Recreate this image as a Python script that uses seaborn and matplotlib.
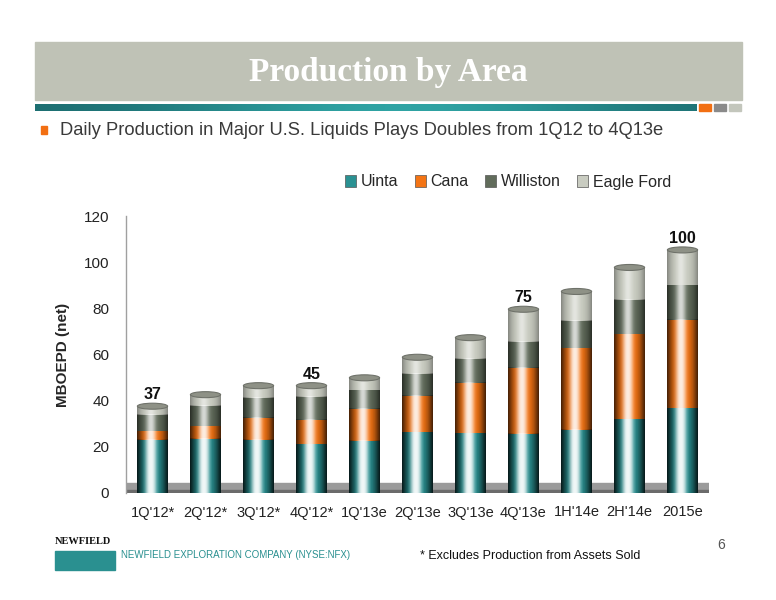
import numpy as np
import pandas as pd
import matplotlib
matplotlib.use("Agg")
import matplotlib.pyplot as plt
import seaborn as sns
from matplotlib.patches import Rectangle, Ellipse, Patch

# values (MBOEPD, net)
quarters = ["1Q'12*", "2Q'12*", "3Q'12*", "4Q'12*", "1Q'13e", "2Q'13e",
            "3Q'13e", "4Q'13e", "1H'14e", "2H'14e", "2015e"]
uinta = [23.0, 23.6, 23.1, 21.2, 22.7, 26.4, 25.9, 25.6, 27.3, 31.9, 36.7]
cana = [3.7, 5.3, 9.4, 10.6, 13.7, 15.8, 21.9, 28.7, 35.4, 36.9, 38.3]
williston = [7.3, 9.0, 8.7, 9.8, 8.1, 9.5, 10.3, 11.3, 12.0, 14.9, 15.0]
eagle_ford = [3.6, 4.7, 5.3, 4.9, 5.4, 7.1, 9.2, 14.0, 12.6, 14.0, 15.3]

# totals called out on the slide
label_quarters = ["1Q'12*", "4Q'12*", "4Q'13e", "2015e"]
label_values = [37, 45, 75, 100]

areas = ["Uinta", "Cana", "Williston", "Eagle Ford"]
colors = {"Uinta": "#2a9192", "Cana": "#f47414",
          "Williston": "#616c5b", "Eagle Ford": "#c9ccc1"}

df = pd.DataFrame({"quarter": quarters, "Uinta": uinta, "Cana": cana,
                   "Williston": williston, "Eagle Ford": eagle_ford})
# cumulative tops so the stacks can be drawn back-to-front
cum = df[areas].cumsum(axis=1)
for a in areas:
    df[a + "_top"] = cum[a]

sns.set_style("white")
plt.rcParams["font.family"] = ["Liberation Sans", "DejaVu Sans"]

fig = plt.figure(figsize=(7.76, 6), dpi=100)
fig.patch.set_facecolor("white")

# --- slide header ---
fig.patches.append(Rectangle((35 / 776, 1 - 100 / 600), 707 / 776, 58 / 600,
                             transform=fig.transFigure, color="#bfc2b6", zorder=0))
fig.text(388 / 776, 1 - 73 / 600, "Production by Area", color="white",
         fontsize=24, fontweight="bold", family=["Liberation Serif", "DejaVu Serif"],
         ha="center", va="center")
# teal stripe with a slight gradient
stripe_ax = fig.add_axes([35 / 776, 1 - 111 / 600, 662 / 776, 7 / 600])
grad = np.linspace(0, 1, 256)
grad = np.exp(-((grad - 0.55) / 0.35) ** 2)
stripe_ax.imshow(grad[None, :], aspect="auto",
                 cmap=matplotlib.colors.LinearSegmentedColormap.from_list(
                     "t", ["#1d6f72", "#2fa3a3"]))
stripe_ax.axis("off")
for x0, c in [(699, "#f26f12"), (714, "#8a8a8a"), (729, "#c3c6bc")]:
    fig.patches.append(Rectangle((x0 / 776, 1 - 111 / 600), 12 / 776, 7 / 600,
                                 transform=fig.transFigure, color=c))

fig.patches.append(Rectangle((41 / 776, 1 - 134 / 600), 6 / 776, 8 / 600,
                             transform=fig.transFigure, color="#f26f12"))
fig.text(60 / 776, 1 - 131 / 600,
         "Daily Production in Major U.S. Liquids Plays Doubles from 1Q12 to 4Q13e",
         fontsize=13.2, color="#3a3a3a", va="center", ha="left")

# --- chart ---
ax = fig.add_axes([126 / 776, 1 - 493 / 600, 583 / 776, 277 / 600])

# floor slab behind the bars
ax.axhspan(0, 4.2, color="#9b9b9b", zorder=0.5)
ax.axhspan(0, 1.4, color="#6b6b6b", zorder=0.6)

bar_w = 0.57
for a in reversed(areas):
    sns.barplot(data=df, x="quarter", y=a + "_top", color=colors[a],
                saturation=1, width=bar_w, ax=ax, zorder=2, linewidth=0)

# cylinder shading on each bar segment
t = np.linspace(0, 1, 128)
shade = np.zeros((1, 128, 4))
shade[..., 3] = 0.35 * np.abs(2 * t - 1) ** 3
light = np.ones((1, 128, 4))
light[..., 3] = 0.5 * np.exp(-((t - 0.45) / 0.14) ** 2)
for cont in ax.containers:
    for p in cont.patches:
        x0, y0 = p.get_x(), p.get_y()
        w, h = p.get_width(), p.get_height()
        ext = (x0, x0 + w, y0, y0 + h)
        ax.imshow(shade, extent=ext, aspect="auto", zorder=3, interpolation="bilinear")
        ax.imshow(light, extent=ext, aspect="auto", zorder=3, interpolation="bilinear")

# caps on top of each stack
totals = df["Eagle Ford_top"].to_numpy()
for i, tot in enumerate(totals):
    ax.add_patch(Ellipse((i, tot), bar_w, 2.6, facecolor="#8e9186",
                         edgecolor="#6f726a", linewidth=0.8, zorder=4))

for q, v in zip(label_quarters, label_values):
    i = quarters.index(q)
    ax.text(i, totals[i] + 1.8, str(v), ha="center", va="bottom",
            fontsize=11.5, fontweight="bold", color="#111111", zorder=5)

ax.set_xlim(-0.5, len(quarters) - 0.5)
ax.set_ylim(0, 120)
ax.set_yticks(range(0, 121, 20))
ax.set_xlabel("")
ax.set_ylabel("MBOEPD (net)", fontsize=11, fontweight="bold", labelpad=10)
ax.tick_params(axis="y", length=0, pad=12, labelsize=11, labelcolor="#222222")
ax.tick_params(axis="x", length=0, pad=9, labelsize=10.5, labelcolor="#222222")
for s in ["top", "right", "bottom"]:
    ax.spines[s].set_visible(False)
ax.spines["left"].set_color("#a0a0a0")
ax.spines["left"].set_linewidth(1)

handles = [Patch(facecolor=colors[a], edgecolor="#555555", linewidth=0.5, label=a)
           for a in areas]
fig.legend(handles=handles, loc="center", bbox_to_anchor=(508 / 776, 1 - 182 / 600),
           ncol=4, frameon=False, fontsize=11.5, handlelength=0.7, handleheight=0.7,
           handletextpad=0.3, columnspacing=1.0)

# --- footer ---
fig.text(55 / 776, 1 - 541 / 600, "NEWFIELD", fontsize=7.5, fontweight="bold",
         family=["Liberation Serif", "DejaVu Serif"], color="#111111", va="center")
fig.patches.append(Rectangle((55 / 776, 1 - 570 / 600), 60 / 776, 19 / 600,
                             transform=fig.transFigure, color="#2a9090"))
fig.text(121 / 776, 1 - 555 / 600, "NEWFIELD EXPLORATION COMPANY (NYSE:NFX)",
         fontsize=7, color="#2a9090", va="center", ha="left")
fig.text(420 / 776, 1 - 556 / 600, "* Excludes Production from Assets Sold",
         fontsize=9, color="#111111", va="center", ha="left")
fig.text(717 / 776, 1 - 545 / 600, "6", fontsize=10, color="#555555", va="center")

fig.savefig("out.png", dpi=100)
